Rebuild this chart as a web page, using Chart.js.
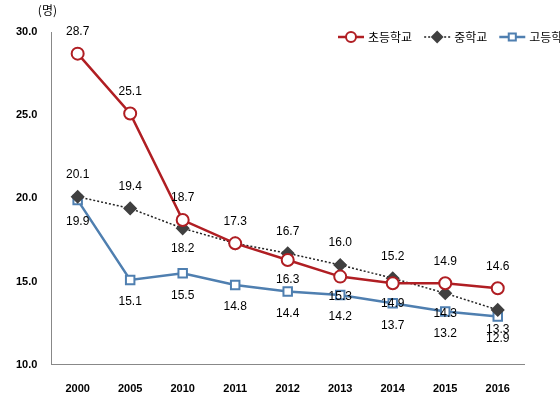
<!DOCTYPE html>
<html><head><meta charset="utf-8">
<script src="https://cdn.jsdelivr.net/npm/chart.js@4/dist/chart.umd.min.js"></script>
<style>body{margin:0;background:#fff}#w{width:560px;height:414px;position:relative}</style>
</head><body><div id="w"><canvas id="c"></canvas></div>
<script>
const years = ['2000','2005','2010','2011','2012','2013','2014','2015','2016'];
const elementary = [28.7,25.1,18.7,17.3,16.3,15.3,14.9,14.9,14.6];
const middle = [20.1,19.4,18.2,17.3,16.7,16.0,15.2,14.3,13.3];
const high = [19.9,15.1,15.5,14.8,14.4,14.2,13.7,13.2,12.9];
const yTicks = [10,15,20,25,30];

const labelPlugin = {
  id:'labels',
  afterDatasetsDraw(chart){
    const ctx = chart.ctx;
    ctx.save();
    ctx.font = '12px "Liberation Sans Narrow", "Liberation Sans", Arial';
    ctx.fillStyle = '#000';
    ctx.textAlign = 'center';
    ctx.textBaseline = 'middle';
    const e = chart.getDatasetMeta(0).data, m = chart.getDatasetMeta(1).data, h = chart.getDatasetMeta(2).data;
    years.forEach((y,i)=>{
      const ev = elementary[i], mv = middle[i];
      let eBelow = Math.abs(ev-mv) < 1.5 && ev < mv;
      ctx.fillText(ev.toFixed(1), e[i].x, e[i].y + (eBelow ? 20 : -22));
      if (mv !== ev) {
        let mBelow = Math.abs(ev-mv) < 1.5 && mv < ev;
        ctx.fillText(mv.toFixed(1), m[i].x, m[i].y + (mBelow ? 20 : -22));
      }
      ctx.fillText(high[i].toFixed(1), h[i].x, h[i].y + 22);
    });
    ctx.font = '12px "Noto Sans CJK KR", sans-serif';
    const ys = chart.scales.y, xs = chart.scales.x;
    ctx.fillText('(명)', ys.right - 4, ys.top - 22);
    ctx.fillText('(년)', xs.right + 18, xs.bottom + 16);
    // legend
    ctx.textAlign = 'left';
    let x = 338; const ly = 37;
    chart.data.datasets.forEach(d=>{
      ctx.save();
      ctx.strokeStyle = d.borderColor; ctx.lineWidth = d.borderWidth;
      ctx.setLineDash(d.borderDash || []);
      ctx.beginPath(); ctx.moveTo(x, ly); ctx.lineTo(x+26, ly); ctx.stroke();
      ctx.setLineDash([]);
      ctx.fillStyle = d.pointBackgroundColor; ctx.strokeStyle = d.pointBorderColor; ctx.lineWidth = 2;
      Chart.helpers.drawPoint(ctx, {pointStyle:d.pointStyle, radius:5, borderWidth:2}, x+13, ly);
      ctx.restore();
      ctx.fillStyle = '#000';
      ctx.fillText(d.label, x+30, ly);
      x += 30 + ctx.measureText(d.label).width + 12;
    });
    ctx.restore();
  }
};

new Chart(document.getElementById('c'), {
  type:'line',
  data:{labels:years, datasets:[
    {label:'초등학교', data:elementary, borderColor:'#B01E23', borderWidth:2.5, pointStyle:'circle', pointRadius:6, pointBackgroundColor:'#fff', pointBorderColor:'#B01E23', pointBorderWidth:2},
    {label:'중학교', data:middle, borderColor:'#222', borderWidth:1.5, borderDash:[2,2], pointStyle:'rectRot', pointRadius:6, pointBackgroundColor:'#404040', pointBorderColor:'#404040'},
    {label:'고등학교', data:high, borderColor:'#4F7FB0', borderWidth:2.5, pointStyle:'rect', pointRadius:6, pointBackgroundColor:'#fff', pointBorderColor:'#4F7FB0', pointBorderWidth:2}
  ]},
  options:{
    responsive:true, maintainAspectRatio:false, animation:false,
    layout:{padding:{left:10,right:36,top:32,bottom:8}},
    plugins:{legend:{display:false}, tooltip:{enabled:false}},
    scales:{
      x:{grid:{display:false}, border:{color:'#888'}, ticks:{color:'#000', font:{family:'"Liberation Sans Narrow", "Liberation Sans"', size:11, weight:'bold'}, padding:10}, offset:true},
      y:{min:10,max:30, afterBuildTicks(s){s.ticks=yTicks.map(v=>({value:v}));}, grid:{display:false}, border:{color:'#888'},
        ticks:{color:'#000', font:{family:'"Liberation Sans Narrow", "Liberation Sans"', size:11, weight:'bold'}, padding:6, callback:v=>v.toFixed(1)}}
    }
  },
  plugins:[labelPlugin]
});
</script></body></html>
